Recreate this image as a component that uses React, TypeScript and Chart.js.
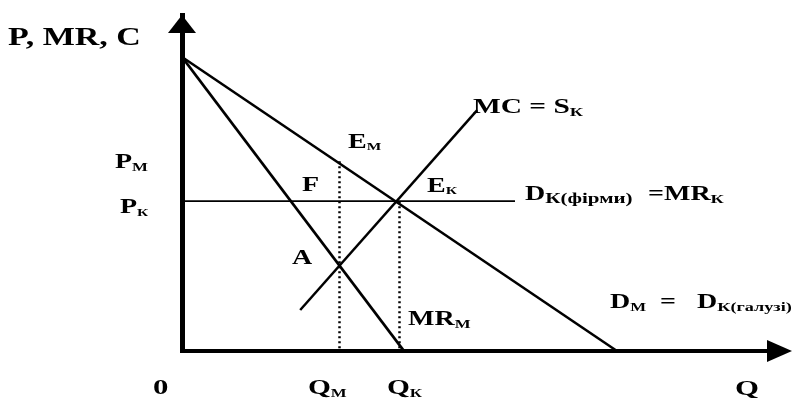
import React, { useEffect, useRef } from "react";
import { Chart, registerables } from "chart.js";

Chart.register(...registerables);

// ---- Data (quantity Q on x, price P on y, arbitrary units 0..100) ----
const marketDemandQ = [0, 72.5];
const marketDemandP = [87.5, 0];
const monopolyMrQ = [0, 37];
const monopolyMrP = [87.5, 0];
const marginalCostQ = [19.7, 49.2];
const marginalCostP = [12.2, 71.7];
const firmDemandQ = [0, 55.5];
const firmDemandP = [44.6, 44.6];
const monopolyQ = [26.25, 26.25];
const monopolyP = [56.5, 0];
const competitiveQ = [36.25, 36.25];
const competitiveP = [44.6, 0];

const FONT = '"Liberation Serif", "Times New Roman", serif';
const STRETCH = 1.4;

type Run = { t: string; size: number; dy?: number };
type Label = { x: number; y: number; runs: Run[]; sx?: number };

const labels: Label[] = [
  { x: 8, y: 45, runs: [{ t: "P, MR, C", size: 25 }], sx: 1.36 },
  { x: 348, y: 148, runs: [{ t: "E", size: 20 }, { t: "М", size: 11, dy: 2 }] },
  { x: 115, y: 168, runs: [{ t: "P", size: 20 }, { t: "М", size: 12, dy: 3 }] },
  { x: 302, y: 191, runs: [{ t: "F", size: 20 }] },
  { x: 120, y: 213, runs: [{ t: "P", size: 20 }, { t: "К", size: 11, dy: 3 }] },
  { x: 427, y: 192, runs: [{ t: "E", size: 20 }, { t: "К", size: 11, dy: 2 }] },
  { x: 473, y: 113, runs: [{ t: "MC = S", size: 21 }, { t: "К", size: 13, dy: 3 }] },
  { x: 525, y: 200, runs: [{ t: "D", size: 20 }, { t: "К(фірми)", size: 15, dy: 3 }] },
  { x: 648, y: 200, runs: [{ t: "=MR", size: 20 }, { t: "К", size: 13, dy: 3 }] },
  { x: 292, y: 264, runs: [{ t: "A", size: 20 }] },
  { x: 408, y: 325, runs: [{ t: "MR", size: 20 }, { t: "М", size: 12, dy: 3 }] },
  { x: 610, y: 308, runs: [{ t: "D", size: 20 }, { t: "М", size: 12, dy: 3 }] },
  { x: 660, y: 308, runs: [{ t: "=", size: 20 }] },
  { x: 697, y: 308, runs: [{ t: "D", size: 20 }, { t: "К(галузі)", size: 13, dy: 3 }] },
  { x: 153, y: 394, runs: [{ t: "0", size: 22 }] },
  { x: 308, y: 394, runs: [{ t: "Q", size: 21 }, { t: "М", size: 12, dy: 3 }] },
  { x: 387, y: 394, runs: [{ t: "Q", size: 21 }, { t: "К", size: 12, dy: 3 }] },
  { x: 735, y: 395, runs: [{ t: "Q", size: 22 }] },
];

const pts = (xs: number[], ys: number[]) => xs.map((x, i) => ({ x, y: ys[i] }));

function drawRuns(ctx: CanvasRenderingContext2D, l: Label) {
  ctx.save();
  ctx.translate(l.x, l.y);
  ctx.scale(l.sx ?? STRETCH, 1);
  ctx.fillStyle = "#000";
  ctx.textBaseline = "alphabetic";
  ctx.textAlign = "left";
  let cx = 0;
  for (const r of l.runs) {
    ctx.font = `bold ${r.size}px ${FONT}`;
    ctx.fillText(r.t, cx, r.dy ?? 0);
    cx += ctx.measureText(r.t).width;
  }
  ctx.restore();
}

const annotationPlugin = {
  id: "econAnnotations",
  afterDraw(chart: any) {
    const ctx: CanvasRenderingContext2D = chart.ctx;
    const xs = chart.scales.x;
    const ys = chart.scales.y;
    const ox = xs.getPixelForValue(0);
    const oy = ys.getPixelForValue(0);
    const top = chart.chartArea.top;
    const right = chart.chartArea.right;
    ctx.save();
    ctx.fillStyle = "#000";
    // y arrow
    ctx.beginPath();
    ctx.moveTo(ox, top);
    ctx.lineTo(ox - 14, top + 18);
    ctx.lineTo(ox + 14, top + 18);
    ctx.closePath();
    ctx.fill();
    // x arrow
    ctx.beginPath();
    ctx.moveTo(right + 10, oy);
    ctx.lineTo(right - 15, oy - 11);
    ctx.lineTo(right - 15, oy + 11);
    ctx.closePath();
    ctx.fill();
    ctx.restore();
    for (const l of labels) drawRuns(ctx, l);
  },
};

export default function App() {
  const ref = useRef<HTMLCanvasElement | null>(null);
  useEffect(() => {
    document.body.style.margin = "0";
    if (!ref.current) return;
    const solid = (data: any[], w: number) => ({
      data,
      showLine: true,
      borderColor: "#000",
      borderWidth: w,
      pointRadius: 0,
      fill: false,
    });
    const dotted = (data: any[]) => ({
      data,
      showLine: true,
      borderColor: "#000",
      borderWidth: 2.5,
      borderDash: [2, 3],
      pointRadius: 0,
      fill: false,
    });
    const chart = new Chart(ref.current, {
      type: "scatter",
      data: {
        datasets: [
          solid(pts(marketDemandQ, marketDemandP), 2.5),
          solid(pts(monopolyMrQ, monopolyMrP), 2.8),
          solid(pts(marginalCostQ, marginalCostP), 2.5),
          solid(pts(firmDemandQ, firmDemandP), 1.6),
          dotted(pts(monopolyQ, monopolyP)),
          dotted(pts(competitiveQ, competitiveP)),
        ] as any,
      },
      options: {
        animation: false,
        responsive: false,
        events: [],
        layout: { padding: { left: 182, right: 11, top: 15, bottom: 47 } },
        plugins: { legend: { display: false }, tooltip: { enabled: false } },
        scales: {
          x: {
            type: "linear",
            min: 0,
            max: 100,
            grid: { display: false, drawTicks: false },
            border: { display: true, color: "#000", width: 4 },
            ticks: { display: false },
          },
          y: {
            type: "linear",
            min: 0,
            max: 100,
            grid: { display: false, drawTicks: false },
            border: { display: true, color: "#000", width: 5 },
            ticks: { display: false },
          },
        },
      },
      plugins: [annotationPlugin],
    });
    return () => chart.destroy();
  }, []);
  return (
    <div style={{ width: 793, height: 398, background: "#fff" }}>
      <canvas ref={ref} width={793} height={398} style={{ display: "block" }} />
    </div>
  );
}
